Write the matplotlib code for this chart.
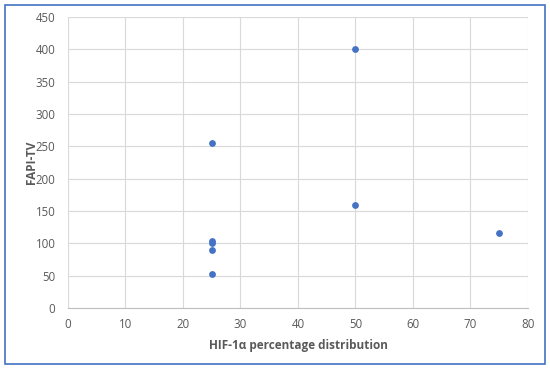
import matplotlib.pyplot as plt
from matplotlib.patches import Rectangle

hif1a = [25, 25, 25, 25, 25, 50, 50, 75]
fapi_tv = [255, 104, 101, 90, 53, 400, 159, 116]

xticks = list(range(0, 81, 10))
yticks = list(range(0, 451, 50))

plt.rcParams['font.family'] = ['Open Sans', 'DejaVu Sans']

fig = plt.figure(figsize=(5.5, 3.69), dpi=100)
ax = fig.add_axes([0.1236, 0.1653, 0.8364, 0.7886])

ax.scatter(hif1a, fapi_tv, s=24, color='#4472C4', zorder=3, linewidths=0)

ax.set_xlim(0, 80)
ax.set_ylim(0, 450)
ax.set_xticks(xticks)
ax.set_yticks(yticks)
ax.grid(True, color='#D9D9D9', linewidth=0.8)
ax.set_axisbelow(True)
for side in ['top', 'right', 'left']:
    ax.spines[side].set_visible(False)
ax.spines['bottom'].set_color('#BFBFBF')
ax.spines['bottom'].set_linewidth(0.8)
ax.tick_params(axis='x', length=0, labelsize=8.3, colors='#595959', pad=7)
ax.tick_params(axis='y', length=0, labelsize=8.3, colors='#595959', pad=9)

ax.set_xlabel('HIF-1α percentage distribution', fontsize=8.5, fontweight='bold',
              color='#595959', labelpad=6)
ax.set_ylabel('FAPI-TV', fontsize=8.5, fontweight='bold', color='#595959')
ax.yaxis.set_label_coords(-0.066, 0.5)

fig.patches.append(Rectangle((5 / 550, 5 / 369), 540 / 550, 359 / 369,
                             transform=fig.transFigure, fill=False,
                             edgecolor='#4472C4', linewidth=1.2))

fig.savefig('out.png', dpi=100)
